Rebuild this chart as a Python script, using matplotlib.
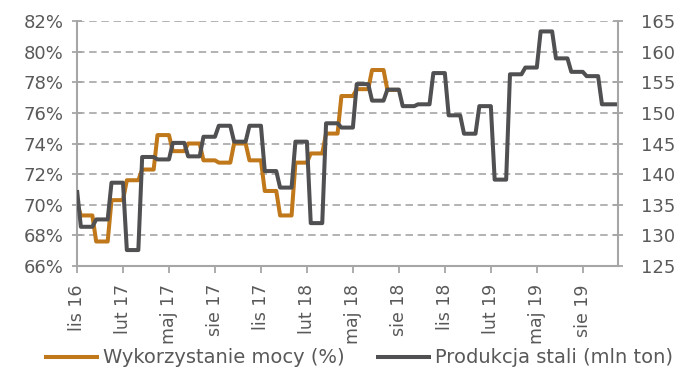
import numpy as np
import matplotlib
matplotlib.use("Agg")
import matplotlib.pyplot as plt

# miesiace od paz 16 (indeks -1) do paz 19
etykiety_x = ["lis 16", "lut 17", "maj 17", "sie 17", "lis 17", "lut 18",
              "maj 18", "sie 18", "lis 18", "lut 19", "maj 19", "sie 19"]

# wykorzystanie mocy (%), paz 16 - lip 18
wykorzystanie = [70.1, 69.3, 67.6, 70.3, 71.6, 72.3, 74.55, 73.5, 74.0, 72.9,
                 72.75, 74.0, 72.9, 70.9, 69.3, 72.75, 73.35, 74.65, 77.1,
                 77.55, 78.8, 77.5]

# produkcja stali (mln ton), paz 16 - paz 19
produkcja = [137.4, 131.4, 132.6, 138.6, 127.6, 142.8, 142.4, 145.1, 142.9,
             146.1, 147.9, 145.3, 147.9, 140.5, 137.8, 145.3, 132.0, 148.3,
             147.6, 154.7, 152.0, 153.8, 151.1, 151.4, 156.5, 149.6, 146.6,
             151.1, 139.1, 156.3, 157.4, 163.3, 158.9, 156.7, 156.0, 151.4,
             151.4]

POMARANCZ = "#C0781A"
SZARY = "#505052"
SIATKA = "#A6A6A6"
TEKST = "#595959"


def schodki(wartosci, przejscie=0.25):
    """Dane miesieczne jako schodki: plaski odcinek w miesiacu, krotkie przejscie."""
    xs = [0.0]
    ys = [wartosci[0]]
    for k, v in enumerate(wartosci[1:]):
        xs += [k + przejscie, k + 1]
        ys += [v, v]
    return np.array(xs), np.array(ys)


fig = plt.figure(figsize=(6.89, 3.76), dpi=100)
ax = fig.add_axes([0.1118, 0.2926, 0.897 - 0.1118, 0.9441 - 0.2926])
ax2 = ax.twinx()

x1, y1 = schodki(wykorzystanie)
x2, y2 = schodki(produkcja)
l1, = ax.plot(x1, y1, color=POMARANCZ, lw=2.9, solid_joinstyle="round",
              solid_capstyle="butt", label="Wykorzystanie mocy (%)")
l2, = ax2.plot(x2, y2, color=SZARY, lw=2.9, solid_joinstyle="round",
               solid_capstyle="butt", label="Produkcja stali (mln ton)")

ax.set_xlim(0, 35.3)
ax.set_ylim(66, 82)
ax2.set_ylim(125, 165)
ax.set_yticks(np.arange(66, 83, 2))
ax.set_yticklabels([f"{v}%" for v in range(66, 83, 2)])
ax2.set_yticks(np.arange(125, 166, 5))
ax.set_xticks(np.arange(0, 34, 3))
ax.set_xticklabels(etykiety_x, rotation=90)

ax.yaxis.grid(True, color=SIATKA, lw=1.2, linestyle=(0, (4.5, 2.8)))
ax.set_axisbelow(True)

for a in (ax, ax2):
    for s in a.spines.values():
        s.set_color(SIATKA)
        s.set_linewidth(1.5)
    a.spines["top"].set_visible(False)
ax.spines["right"].set_visible(False)
ax2.spines["left"].set_visible(False)
ax2.spines["bottom"].set_visible(False)

ax.tick_params(axis="y", direction="inout", length=7, width=1.3, color=SIATKA,
               labelcolor=TEKST, labelsize=13, pad=6)
ax2.tick_params(axis="y", direction="inout", length=7, width=1.3, color=SIATKA,
                labelcolor=TEKST, labelsize=13, pad=13)
ax.tick_params(axis="x", direction="out", length=5, width=1.3, color=SIATKA,
               labelcolor=TEKST, labelsize=12.5, pad=8)

fig.legend(handles=[l1, l2], loc="center", bbox_to_anchor=(0.52, 0.048),
           ncol=2, frameon=False, fontsize=14, labelcolor=TEKST,
           handlelength=2.85, handletextpad=0.2, columnspacing=1.6)

fig.savefig("out.png", dpi=100)
